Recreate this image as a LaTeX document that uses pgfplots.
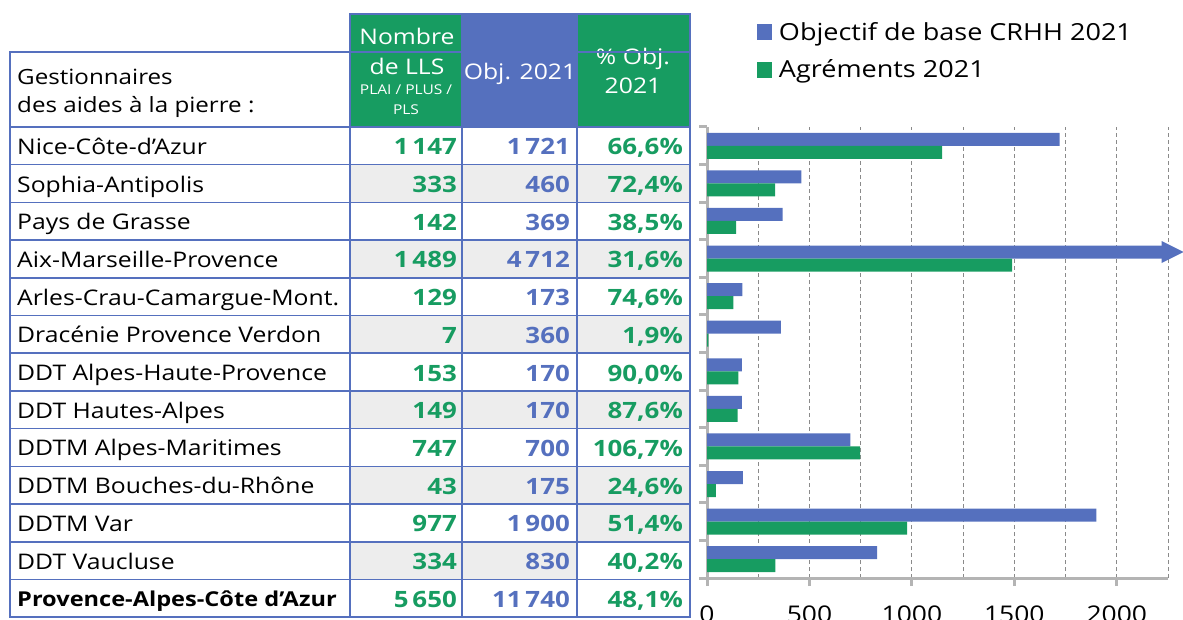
\documentclass[border=0pt]{standalone}
\usepackage{fontspec}
\setmainfont{Open Sans}[FakeStretch=1.15]
\usepackage{pgfplots}
\pgfplotsset{compat=1.18}
\usetikzlibrary{arrows.meta}
\definecolor{cb}{HTML}{5570BE}
\definecolor{cg}{HTML}{179C61}
\definecolor{cgray}{HTML}{EDEDED}
\definecolor{axg}{HTML}{B4B4B4}
\definecolor{gridg}{HTML}{8A8A8A}
\newcommand{\fs}[1]{\fontsize{#1pt}{#1pt}\selectfont}
% row: #1 index, #2 name, #3 agr, #4 obj, #5 pct, #6 #7 #8 fills
\newcommand{\trow}[8]{%
  \pgfmathsetmacro\ytop{127+#1*37.7}%
  \pgfmathsetmacro\ybot{127+(#1+1)*37.7}%
  \pgfmathsetmacro\ybase{127+(#1+0.5)*37.7+8.5}%
  \pgfmathsetmacro\ybasen{127+(#1+0.5)*37.7+9}%
  \fill[#6] (350,\ytop) rectangle (462,\ybot);
  \fill[#7] (462,\ytop) rectangle (577,\ybot);
  \fill[#8] (577,\ytop) rectangle (690,\ybot);
  \node[anchor=base west,inner sep=0pt,font=\fs{21.5}] at (17,\ybase) {#2};
  \node[anchor=base east,inner sep=0pt,font=\fs{22.5}\bfseries,text=cg] at (457,\ybasen) {#3};
  \node[anchor=base east,inner sep=0pt,font=\fs{22.5}\bfseries,text=cb] at (570,\ybasen) {#4};
  \node[anchor=base east,inner sep=0pt,font=\fs{22.5}\bfseries,text=cg] at (683,\ybasen) {#5};
}
\begin{document}
\begin{tikzpicture}
\useasboundingbox (0,0) rectangle (1183pt,619pt);
\begin{scope}[x=1pt,y=-1pt,yshift=619pt]
  % header
  \fill[cg] (350,14) rectangle (462,127);
  \fill[cb] (462,14) rectangle (577,127);
  \fill[cg] (577,14) rectangle (690,127);
  \node[anchor=base west,inner sep=0pt,font=\fs{21}] at (17,85) {Gestionnaires};
  \node[anchor=base west,inner sep=0pt,font=\fs{21}] at (17,113) {des aides à la pierre :};
  \node[anchor=base,inner sep=0pt,font=\fs{21.5},text=white] at (407,45) {Nombre};
  \node[anchor=base,inner sep=0pt,font=\fs{21.5},text=white] at (407,75) {de LLS};
  \node[anchor=base,inner sep=0pt,font=\fs{13.5},text=white] at (406,95) {PLAI / PLUS /};
  \node[anchor=base,inner sep=0pt,font=\fs{13.5},text=white] at (406,115) {PLS};
  \node[anchor=base,inner sep=0pt,font=\fs{21.5},text=white] at (520,80) {Obj. 2021};
  \node[anchor=base,inner sep=0pt,font=\fs{21.5},text=white] at (633,65) {\% Obj.};
  \node[anchor=base,inner sep=0pt,font=\fs{21.5},text=white] at (633,94) {2021};
  % rows
  \trow{0}{Nice-Côte-d’Azur}{1\,147}{1\,721}{66,6\%}{white}{white}{white}
  \trow{1}{Sophia-Antipolis}{333}{460}{72,4\%}{cgray}{cgray}{cgray}
  \trow{2}{Pays de Grasse}{142}{369}{38,5\%}{white}{white}{white}
  \trow{3}{Aix-Marseille-Provence}{1\,489}{4\,712}{31,6\%}{cgray}{cgray}{cgray}
  \trow{4}{Arles-Crau-Camargue-Mont.}{129}{173}{74,6\%}{white}{white}{white}
  \trow{5}{Dracénie Provence Verdon}{7}{360}{1,9\%}{cgray}{cgray}{cgray}
  \trow{6}{DDT Alpes-Haute-Provence}{153}{170}{90,0\%}{white}{white}{white}
  \trow{7}{DDT Hautes-Alpes}{149}{170}{87,6\%}{cgray}{cgray}{cgray}
  \trow{8}{DDTM Alpes-Maritimes}{747}{700}{106,7\%}{white}{white}{white}
  \trow{9}{DDTM Bouches-du-Rhône}{43}{175}{24,6\%}{cgray}{cgray}{cgray}
  \trow{10}{DDTM Var}{977}{1\,900}{51,4\%}{white}{white}{cgray}
  \trow{11}{DDT Vaucluse}{334}{830}{40,2\%}{cgray}{cgray}{white}
  \trow{12}{\fontsize{20.5pt}{20.5pt}\selectfont\textbf{Provence-Alpes-Côte d’Azur}}{5\,650}{11\,740}{48,1\%}{white}{white}{white}
  % borders
  \begin{scope}[cb, line width=1.6pt]
    \draw (10,52) rectangle (690,617);
    \draw (350,14) rectangle (690,617);
    \draw (462,14) -- (462,617);
    \draw (577,14) -- (577,617);
    \foreach \k in {0,...,12} {
      \pgfmathsetmacro\yy{127+\k*37.7}
      \draw (10,\yy) -- (690,\yy);
    }
  \end{scope}
\end{scope}
\begin{axis}[
  at={(707pt,41pt)}, anchor=south west, scale only axis,
  width=461pt, height=451pt,
  xmin=0, xmax=2250, ymin=0.5, ymax=12.5,
  xbar, bar width=13pt,
  axis x line*=bottom, axis y line*=left,
  axis line style={axg, line width=3pt, -},
  xtick={0,500,...,2000}, minor xtick={250,750,...,2250},
  xmajorgrids, xminorgrids,
  grid style={gridg, line width=0.9pt, dash pattern=on 4pt off 3pt},
  minor tick length=0pt, major tick length=8pt, tick align=outside,
  tick style={axg, line width=3pt},
  ytick={0.5,1.5,...,12.5}, yticklabels={},
  /pgf/number format/assume math mode=true,
  /pgf/number format/1000 sep={},
  xticklabel style={font=\fs{23}, yshift=-16pt},
  clip=false,
  legend style={at={(axis description cs:0.108,1.237)}, anchor=north west,
    draw=none, fill=none, font=\fs{23.5}, inner sep=0pt, row sep=14pt,
    column sep=5pt},
  legend cell align=left,
  legend image code/.code={\fill (0pt,-8pt) rectangle (15pt,8pt);},
]
\addplot[fill=cb, draw=none, bar shift=6.5pt, restrict x to domain*=0:2221]
  coordinates {(1721,12) (460,11) (369,10) (4712,9) (173,8) (360,7) (170,6) (170,5) (700,4) (175,3) (1900,2) (830,1)};
\addplot[fill=cg, draw=none, bar shift=-6.5pt]
  coordinates {(1147,12) (333,11) (142,10) (1489,9) (129,8) (7,7) (153,6) (149,5) (747,4) (43,3) (977,2) (334,1)};
\legend{Objectif de base CRHH 2021, Agréments 2021}
\fill[cb] (axis cs:2219,9) ++(0pt,17.5pt) -- ++(22pt,-11pt) -- ++(-22pt,-11pt) -- cycle;
\end{axis}
\end{tikzpicture}
\end{document}
